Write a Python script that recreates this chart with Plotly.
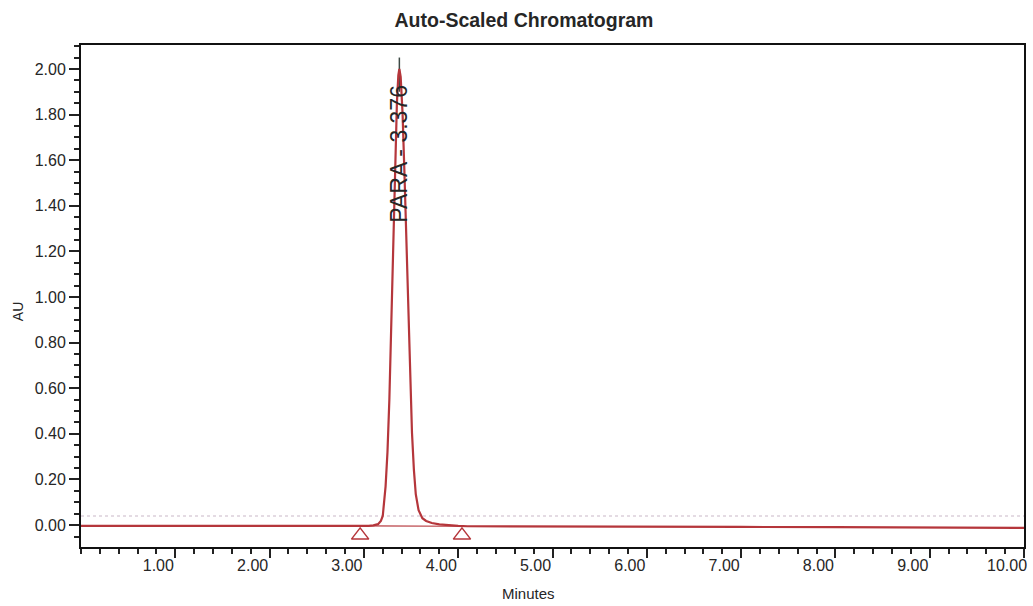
import plotly.graph_objects as go

# ---- data ----
time_min = [0.00, 0.50, 1.00, 1.50, 2.00, 2.50, 2.90, 3.00, 3.05, 3.10, 3.15, 3.18,
            3.20, 3.23, 3.25, 3.27, 3.29, 3.31, 3.33, 3.35, 3.365, 3.376, 3.39, 3.41,
            3.43, 3.45, 3.47, 3.49, 3.51, 3.53, 3.55, 3.58, 3.62, 3.66, 3.72, 3.80,
            3.90, 4.00, 4.10, 4.50, 5.00, 6.00, 7.00, 8.00, 9.00, 10.00]
absorbance = [-0.003, -0.003, -0.004, -0.004, -0.005, -0.005, -0.005, -0.004, -0.003, -0.001, 0.004, 0.018,
              0.040, 0.170, 0.320, 0.550, 0.856, 1.213, 1.569, 1.850, 1.972, 2.000, 1.965, 1.805,
              1.543, 1.229, 0.912, 0.630, 0.405, 0.243, 0.136, 0.065, 0.030, 0.018, 0.009, 0.003,
              -0.001, -0.003, -0.005, -0.005, -0.006, -0.007, -0.008, -0.009, -0.011, -0.012]

peak_name = "PARA"
peak_rt = 3.376
peak_label_y = 1.63
peak_line_au = [1.90, 2.05]

# integration baseline (start / end markers)
int_time = [2.96, 4.04]
int_au = [-0.003, -0.005]
marker_au = [-0.045, -0.045]

# faint scan line
faint_time = [0.0, 10.0]
faint_au = [0.04, 0.04]

x_tick_vals = [1, 2, 3, 4, 5, 6, 7, 8, 9, 10]
x_tick_text = ["1.00", "2.00", "3.00", "4.00", "5.00", "6.00", "7.00", "8.00", "9.00", "10.00"]
y_tick_vals = [0.0, 0.2, 0.4, 0.6, 0.8, 1.0, 1.2, 1.4, 1.6, 1.8, 2.0]
y_tick_text = ["0.00", "0.20", "0.40", "0.60", "0.80", "1.00", "1.20", "1.40", "1.60", "1.80", "2.00"]

FONT = "Liberation Sans, Arial, sans-serif"
TXT = "#262626"
RED = "#b5363b"

L, R, T, B = 81, 6, 45, 59
W, H = 1033, 606
pw, ph = W - L - R, H - T - B

fig = go.Figure()

fig.add_trace(go.Scatter(x=faint_time, y=faint_au, mode="lines",
                         line=dict(color="#dcd0da", width=1.5, dash="dot"),
                         hoverinfo="skip", showlegend=False))

fig.add_trace(go.Scatter(x=[peak_rt, peak_rt], y=peak_line_au, mode="lines",
                         line=dict(color="#3d4a45", width=1.5),
                         hoverinfo="skip", showlegend=False))

fig.add_trace(go.Scatter(x=time_min, y=absorbance, mode="lines",
                         line=dict(color=RED, width=2.2),
                         showlegend=False))

fig.add_trace(go.Scatter(x=int_time, y=int_au, mode="lines",
                         line=dict(color=RED, width=1.2),
                         hoverinfo="skip", showlegend=False))

fig.add_trace(go.Scatter(x=int_time, y=marker_au, mode="markers",
                         marker=dict(symbol="triangle-up-open", size=15,
                                     color=RED, line=dict(width=1.5)),
                         hoverinfo="skip", showlegend=False))

fig.add_annotation(x=peak_rt, y=peak_label_y, xref="x", yref="y",
                   text=f"{peak_name} - {peak_rt:.3f}", textangle=-90,
                   showarrow=False, font=dict(family=FONT, size=23, color=TXT),
                   xanchor="center", yanchor="middle")

fig.add_annotation(x=(18 - L) / pw, y=(H - B - 312) / ph, xref="paper", yref="paper",
                   text="AU", textangle=-90, showarrow=False,
                   xanchor="center", yanchor="middle",
                   font=dict(family=FONT, size=14, color=TXT))

fig.add_annotation(x=(530 - L) / pw, y=(H - B - 593) / ph, xref="paper", yref="paper",
                   text="Minutes", showarrow=False, xanchor="center", yanchor="middle",
                   font=dict(family=FONT, size=15, color=TXT))

fig.update_layout(
    width=W, height=H,
    margin=dict(l=L, r=R, t=T, b=B, pad=0),
    paper_bgcolor="white", plot_bgcolor="white",
    title=dict(text="<b>Auto-Scaled Chromatogram</b>", x=524 / W, xref="container",
               xanchor="center", y=1 - 20 / H, yref="container", yanchor="middle",
               font=dict(family=FONT, size=19.5, color=TXT)),
    font=dict(family=FONT, color=TXT),
)

fig.update_xaxes(range=[0.0, 10.0], tickmode="array", tickvals=x_tick_vals, ticktext=x_tick_text,
                 ticks="outside", ticklen=9, tickwidth=1.5, tickcolor="#222",
                 ticklabelshift=-17, ticklabelstandoff=-6,
                 tickfont=dict(family=FONT, size=16, color=TXT),
                 showgrid=False, zeroline=False, showline=True, linecolor="#111", linewidth=2,
                 mirror=True,
                 minor=dict(tickmode="linear", tick0=0, dtick=0.2, ticks="outside", ticklen=5,
                            tickwidth=1.5, tickcolor="#222", showgrid=False))

fig.update_yaxes(range=[-0.096, 2.105], tickmode="array", tickvals=y_tick_vals, ticktext=y_tick_text,
                 ticks="outside", ticklen=10, tickwidth=1.5, tickcolor="#222",
                 tickfont=dict(family=FONT, size=16, color=TXT),
                 showgrid=False, zeroline=False, showline=True, linecolor="#111", linewidth=2,
                 mirror=True,
                 minor=dict(tickmode="linear", tick0=0, dtick=0.05, ticks="outside", ticklen=5,
                            tickwidth=1.5, tickcolor="#222", showgrid=False))

fig.write_html("out.html")
